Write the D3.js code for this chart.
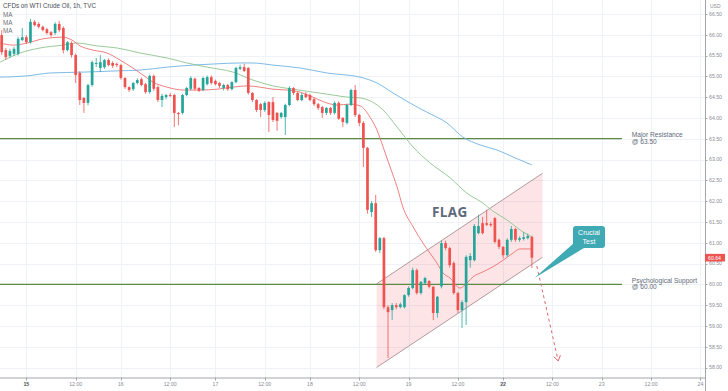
<!DOCTYPE html>
<html>
<head>
<meta charset="utf-8">
<script src="https://cdn.jsdelivr.net/npm/d3@7"></script>
<style>
  html, body { margin: 0; padding: 0; background: #fff; }
  svg { display: block; font-family: "Liberation Sans", "DejaVu Sans", sans-serif; }
</style>
</head>
<body>
<svg id="chart" width="728" height="391"></svg>
<script>
// WTI crude oil 1h candles with flag pattern - hourly bars, index 0 = first bar on screen

const opens = [65.99,65.63,65.49,65.54,65.54,65.87,65.94,65.82,66.31,66.26,66.19,66.13,66.06,66.04,66.26,66.16,65.63,65.80,65.51,65.08,
  64.48,64.36,64.79,65.30,65.20,65.22,65.39,65.32,65.30,65.27,64.96,64.74,64.69,64.84,64.93,64.81,64.62,65.01,64.74,64.43,
  64.50,64.55,64.55,64.12,64.12,64.55,64.70,64.94,64.72,64.67,64.81,64.98,64.89,64.84,64.72,64.79,64.69,64.86,65.18,65.22,
  65.20,64.60,64.43,64.33,64.19,64.38,64.38,64.12,64.02,64.02,64.31,64.72,64.60,64.43,64.57,64.55,64.45,64.33,64.26,64.12,
  64.24,64.12,64.36,64.00,63.88,64.31,64.67,64.07,63.88,63.28,61.74,61.95,60.82,61.11,59.45,59.38,59.50,59.45,59.45,59.74,
  59.91,60.34,59.79,60.03,60.08,59.94,59.31,59.95,60.99,60.87,60.51,59.79,59.38,59.57,60.58,60.58,61.23,61.47,61.47,61.45,
  61.59,61.07,60.90,60.70,61.07,61.33,61.07,61.09,61.11,61.14];
const highs = [66.11,65.68,65.66,65.71,65.95,66.16,65.99,66.38,66.35,66.30,66.22,66.16,66.09,66.30,66.33,66.20,65.85,65.84,65.55,65.12,
  64.50,64.82,65.38,65.44,65.51,65.42,65.43,65.36,65.33,65.30,64.98,64.76,64.86,64.95,64.97,64.84,65.04,65.04,64.78,64.58,
  64.58,64.60,64.58,64.14,64.58,64.75,65.00,64.97,64.74,64.99,65.02,65.02,64.92,64.86,64.82,64.82,64.88,65.23,65.28,65.30,
  65.22,64.62,64.45,64.36,64.40,64.40,64.50,64.14,64.14,64.34,64.76,64.74,64.62,64.60,64.62,64.58,64.48,64.36,64.29,64.26,
  64.26,64.40,64.40,64.02,64.34,64.70,64.79,64.10,63.92,63.30,62.00,62.15,61.14,61.14,59.50,59.55,59.55,59.56,59.76,59.95,
  60.40,60.38,60.08,60.18,60.10,59.96,59.72,61.05,61.05,60.90,60.55,59.82,59.62,60.70,60.75,61.45,61.67,61.62,61.79,61.50,
  61.62,61.10,60.92,61.10,61.40,61.36,61.15,61.26,61.22,61.17];
const lows = [65.51,65.39,65.44,65.49,65.50,65.85,65.78,65.78,66.20,66.15,66.08,66.00,65.95,65.99,66.06,65.55,65.60,65.45,64.84,64.31,
  64.12,64.30,64.75,65.22,65.10,65.18,65.24,65.20,65.22,64.92,64.70,64.62,64.65,64.80,64.76,64.58,64.58,64.65,64.38,64.26,
  64.45,64.50,63.78,63.82,64.08,64.52,64.66,64.66,64.62,64.64,64.78,64.80,64.78,64.72,64.66,64.65,64.66,64.83,65.15,65.10,
  64.56,64.38,64.14,64.02,64.14,63.66,63.90,63.69,63.98,63.59,64.28,64.55,64.40,64.40,64.47,64.40,64.29,64.19,64.00,64.07,
  64.07,64.08,63.95,63.78,63.84,64.28,64.02,63.80,62.82,61.70,61.62,60.78,60.75,59.40,58.23,59.14,59.40,59.42,59.42,59.70,
  59.88,59.75,59.75,60.00,59.90,59.14,59.20,59.90,60.82,60.40,59.75,59.31,58.95,59.02,60.40,60.55,61.20,61.20,61.40,61.38,
  60.98,60.85,60.62,60.66,61.02,61.02,61.02,61.05,61.08,60.39];
const closes = [65.58,65.46,65.61,65.66,65.90,65.94,65.82,66.31,66.23,66.19,66.11,66.04,65.99,66.26,66.11,65.63,65.82,65.51,65.03,64.43,
  64.36,64.79,65.34,65.32,65.34,65.39,65.27,65.25,65.27,64.96,64.74,64.67,64.84,64.91,64.79,64.62,65.01,64.70,64.43,64.53,
  64.55,64.53,64.12,64.09,64.55,64.72,64.96,64.70,64.65,64.96,64.98,64.84,64.81,64.77,64.79,64.69,64.86,65.20,65.22,65.13,
  64.60,64.43,64.19,64.19,64.36,64.07,63.95,63.93,64.12,64.31,64.72,64.60,64.43,64.55,64.50,64.43,64.33,64.24,64.12,64.24,
  64.12,64.36,63.98,63.90,64.31,64.67,64.07,63.88,63.28,61.79,61.95,60.82,61.11,59.45,59.33,59.50,59.45,59.52,59.74,59.91,
  60.34,59.79,60.06,60.15,59.94,59.31,59.70,60.99,60.87,60.46,59.79,59.38,59.57,60.66,60.68,61.40,61.40,61.23,61.43,61.42,
  61.02,60.90,60.70,61.07,61.33,61.07,61.11,61.13,61.16,60.64];

// moving averages: [bar, price]
const maFast = [[-0.4,65.80],[2.7,65.75],[6.2,65.80],[10.0,65.90],[14.9,65.94],[17.1,65.87],[19.1,65.73],[22.2,65.63],[25.6,65.56],
  [28.8,65.39],[31.9,65.20],[34.4,65.03],[36.8,64.86],[40.2,64.74],[44.1,64.67],[48.2,64.67],[52.4,64.69],[56.3,64.74],[59.7,64.77],
  [62.8,64.74],[66.0,64.69],[69.4,64.67],[72.6,64.62],[75.7,64.50],[79.1,64.36],[81.6,64.31],[84.7,64.33],[87.2,64.29],[89.6,64.02],
  [91.3,63.71],[92.8,63.30],[94.5,62.82],[96.2,62.34],[97.6,61.86],[100.1,61.38],[102.5,60.99],[104.2,60.75],[105.9,60.51],
  [107.4,60.27],[109.1,60.15],[111.5,59.91],[113.2,60.03],[114.7,60.18],[117.1,60.30],[119.5,60.42],[122.0,60.58],[124.4,60.75],
  [126.1,60.85],[129.0,60.85]];
const maMid = [[-0.4,65.34],[4.5,65.56],[9.3,65.68],[14.9,65.75],[18.3,65.80],[23.2,65.73],[28.1,65.68],[33.7,65.56],[40.2,65.44],
  [45.1,65.32],[50.0,65.22],[56.3,65.10],[61.1,64.91],[66.0,64.77],[70.9,64.69],[75.7,64.62],[80.6,64.55],[84.0,64.50],[87.2,64.48],
  [92.8,64.19],[96.2,63.78],[100.1,63.30],[104.2,62.92],[109.1,62.56],[113.2,62.19],[117.1,61.95],[119.5,61.76],[122.9,61.55],
  [126.8,61.26],[129.0,61.14]];
const maSlow = [[-0.4,64.98],[6.2,65.01],[11.8,65.08],[19.8,65.10],[28.1,65.13],[33.7,65.15],[40.2,65.22],[46.6,65.27],[52.4,65.30],
  [58.0,65.32],[61.1,65.32],[66.0,65.27],[72.6,65.20],[79.1,65.08],[87.2,64.98],[91.3,64.84],[95.2,64.60],[99.3,64.36],[103.4,64.14],
  [108.3,63.88],[112.2,63.54],[116.4,63.35],[120.5,63.23],[124.4,63.06],[129.0,62.87]];

// axis ticks
const xTickBars = [6, 18, 29, 41, 52, 64, 75, 87, 99, 111, 122, 134, 146, 158, 170];
const xTickLabels = ['15', '12:00', '16', '12:00', '17', '12:00', '18', '12:00', '19', '12:00', '22', '12:00', '23', '12:00', '24'];
const weekStarts = ['15', '22'];
const priceTicks = [58, 58.5, 59, 59.5, 60, 60.5, 61, 61.5, 62, 62.5, 63, 63.5, 64, 64.5, 65, 65.5, 66, 66.5];

// drawings
const levels = [
  { price: 63.5, title: 'Major Resistance', sub: '@ 63.50' },
  { price: 60.0, title: 'Psychological Support', sub: '@ 60.00' }
];
const channelUpper = [[91.2, 60.01], [131.6, 62.67]];
const channelLower = [[91.2, 58.00], [131.6, 60.65]];
const projection = [[130.2, 60.44], [135.4, 58.16]];
const lastPrice = 60.64;

const W = 728, H = 391;
const plotRight = 705, plotBottom = 377.5;

const svg = d3.select('#chart');

const x = d3.scaleLinear().domain([0, 170]).range([1.7, 1.7 + 170 * 4.11]);
const y = d3.scaleLinear().domain([60, 66.5]).range([284.3, 13.9]);

const up = '#26a69a', down = '#ef5350';

// grid
const grid = svg.append('g');
grid.selectAll('line.v').data(xTickBars).join('line')
  .attr('x1', d => Math.round(x(d)) + 0.5).attr('x2', d => Math.round(x(d)) + 0.5)
  .attr('y1', 0).attr('y2', plotBottom)
  .attr('stroke', '#eff2f7');
grid.selectAll('line.h').data(priceTicks).join('line')
  .attr('x1', 0).attr('x2', plotRight)
  .attr('y1', d => Math.round(y(d)) + 0.5).attr('y2', d => Math.round(y(d)) + 0.5)
  .attr('stroke', '#eff2f7');

const plot = svg.append('g');
svg.append('clipPath').attr('id', 'clip').append('rect')
  .attr('width', plotRight).attr('height', plotBottom);
plot.attr('clip-path', 'url(#clip)');

// flag channel
const poly = [channelUpper[0], channelUpper[1], channelLower[1], channelLower[0]];
plot.append('path')
  .attr('d', 'M' + poly.map(p => [x(p[0]), y(p[1])].join(',')).join('L') + 'Z')
  .attr('fill', 'rgba(242,54,69,0.13)');
[channelUpper, channelLower].forEach(seg => {
  plot.append('line')
    .attr('x1', x(seg[0][0])).attr('y1', y(seg[0][1]))
    .attr('x2', x(seg[1][0])).attr('y2', y(seg[1][1]))
    .attr('stroke', '#a98f93').attr('stroke-width', 0.9);
});

// horizontal levels
levels.forEach(l => {
  plot.append('line')
    .attr('x1', 0).attr('x2', x(150.9))
    .attr('y1', y(l.price)).attr('y2', y(l.price))
    .attr('stroke', '#5b8a45').attr('stroke-width', 1.2);
  const t = svg.append('text')
    .attr('x', x(153.3)).attr('y', y(l.price) - 1.5)
    .attr('font-size', 6.6).attr('fill', '#5e6a79');
  t.append('tspan').text(l.title);
  t.append('tspan').attr('x', x(153.3)).attr('dy', 6.4).text(l.sub);
});

// moving averages
const line = d3.line().x(d => x(d[0])).y(d => y(d[1])).curve(d3.curveMonotoneX);
[[maSlow, '#6fb2e4'], [maMid, '#8fc48d'], [maFast, '#ec7270']].forEach(([pts, c]) => {
  plot.append('path').attr('d', line(pts))
    .attr('fill', 'none').attr('stroke', c).attr('stroke-width', 0.9);
});

// candles
const candles = closes.map((c, i) => ({ i, o: opens[i], h: highs[i], l: lows[i], c }));
const cg = plot.append('g');
cg.selectAll('line').data(candles).join('line')
  .attr('x1', d => x(d.i)).attr('x2', d => x(d.i))
  .attr('y1', d => y(d.h)).attr('y2', d => y(d.l))
  .attr('stroke', d => d.c >= d.o ? up : down).attr('stroke-width', 0.8);
cg.selectAll('rect').data(candles).join('rect')
  .attr('x', d => x(d.i) - 1.35).attr('width', 2.7)
  .attr('y', d => y(Math.max(d.o, d.c)))
  .attr('height', d => Math.max(1, Math.abs(y(d.o) - y(d.c))))
  .attr('fill', d => d.c >= d.o ? up : down);

// projected move
const p0 = [x(projection[0][0]), y(projection[0][1])];
const p1 = [x(projection[1][0]), y(projection[1][1])];
plot.append('line')
  .attr('x1', p0[0]).attr('y1', p0[1]).attr('x2', p1[0]).attr('y2', p1[1])
  .attr('stroke', '#e0686a').attr('stroke-width', 1).attr('stroke-dasharray', '3,3');
const ang = Math.atan2(p1[1] - p0[1], p1[0] - p0[0]);
[-0.6, 0.6].forEach(a => {
  plot.append('line')
    .attr('x1', p1[0]).attr('y1', p1[1])
    .attr('x2', p1[0] - 6 * Math.cos(ang + a)).attr('y2', p1[1] - 6 * Math.sin(ang + a))
    .attr('stroke', '#e0686a').attr('stroke-width', 1);
});

// FLAG label
svg.append('text').attr('x', 432).attr('y', 217)
  .attr('font-family', '"Open Sans", sans-serif').attr('font-weight', 700)
  .attr('font-size', 13.5).attr('fill', '#5d6a7c').attr('letter-spacing', 0.4)
  .text('FLAG');

// callout
const call = svg.append('g');
call.append('path')
  .attr('d', `M${x(129.6)},${y(60.15)}L574,243L584,248Z`)
  .attr('fill', '#3fa9b4');
call.append('rect').attr('x', 573).attr('y', 226).attr('width', 32).attr('height', 22)
  .attr('rx', 3).attr('fill', '#3fa9b4');
call.append('text').attr('x', 589).attr('y', 235).attr('text-anchor', 'middle')
  .attr('font-size', 7).attr('fill', '#fff').text('Crucial');
call.append('text').attr('x', 589).attr('y', 243.5).attr('text-anchor', 'middle')
  .attr('font-size', 7).attr('fill', '#fff').text('Test');

// axes
svg.append('line').attr('x1', plotRight + 0.5).attr('x2', plotRight + 0.5)
  .attr('y1', 0).attr('y2', H).attr('stroke', '#a3a6ad');
svg.append('line').attr('x1', 0).attr('x2', plotRight)
  .attr('y1', plotBottom + 0.5).attr('y2', plotBottom + 0.5).attr('stroke', '#a3a6ad');

const ya = svg.append('g');
ya.selectAll('line').data(priceTicks).join('line')
  .attr('x1', plotRight).attr('x2', plotRight + 2.5)
  .attr('y1', d => Math.round(y(d)) + 0.5).attr('y2', d => Math.round(y(d)) + 0.5)
  .attr('stroke', '#a3a6ad');
ya.selectAll('text').data(priceTicks).join('text')
  .attr('x', 709).attr('y', d => y(d) + 1.8)
  .attr('font-size', 5.2).attr('fill', '#888c94')
  .text(d => d.toFixed(2));
svg.append('text').attr('x', 710).attr('y', 7.5).attr('font-size', 5).attr('fill', '#888c94').text('USD');

// last price tag
svg.append('rect').attr('x', plotRight).attr('y', y(lastPrice) - 3.8).attr('width', 20).attr('height', 7.6)
  .attr('fill', down);
svg.append('text').attr('x', 708).attr('y', y(lastPrice) + 1.9)
  .attr('font-size', 5.2).attr('fill', '#fff').text(lastPrice.toFixed(2));

const xa = svg.append('g');
xa.selectAll('line').data(xTickBars).join('line')
  .attr('x1', d => Math.round(x(d)) + 0.5).attr('x2', d => Math.round(x(d)) + 0.5)
  .attr('y1', plotBottom).attr('y2', plotBottom + 3)
  .attr('stroke', '#a3a6ad');
xa.selectAll('text').data(xTickBars).join('text')
  .attr('x', d => x(d)).attr('y', 386)
  .attr('text-anchor', 'middle').attr('font-size', 5.2)
  .attr('fill', (d, i) => weekStarts.includes(xTickLabels[i]) ? '#4a4e56' : '#888c94')
  .attr('font-weight', (d, i) => weekStarts.includes(xTickLabels[i]) ? 700 : 400)
  .text((d, i) => xTickLabels[i]);

// title + legend
svg.append('text').attr('x', 3).attr('y', 8).attr('font-size', 6.3).attr('fill', '#4a4e56')
  .text('CFDs on WTI Crude Oil, 1h, TVC');
['MA', 'MA', 'MA'].forEach((t, i) => {
  svg.append('text').attr('x', 3).attr('y', 17 + i * 8.2).attr('font-size', 6.3).attr('fill', '#6f737b').text(t);
});
</script>
</body>
</html>
